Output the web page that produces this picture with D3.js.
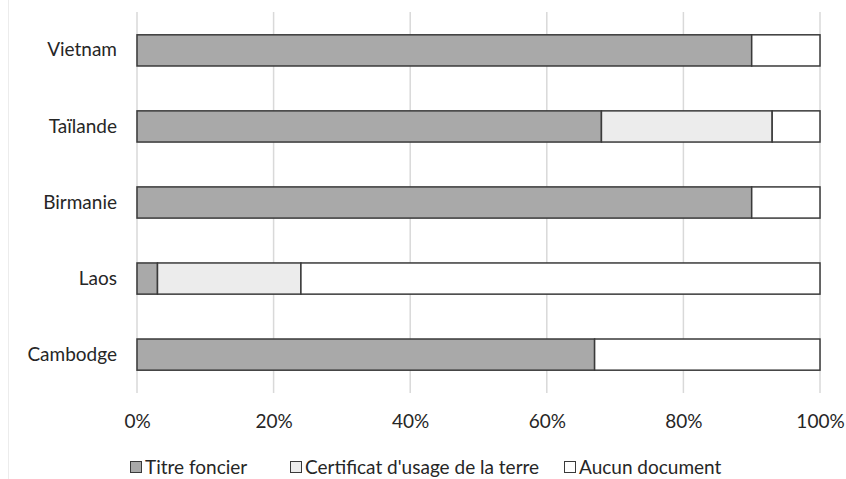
<!DOCTYPE html>
<html>
<head>
<meta charset="utf-8">
<script src="https://cdn.jsdelivr.net/npm/d3@7"></script>
<style>
  html, body { margin: 0; padding: 0; background: #fff; }
  svg { display: block; font-family: Lato, "Noto Sans", sans-serif; }
</style>
</head>
<body>
<svg id="chart" width="846" height="479"></svg>
<script>
// Categories, top to bottom
const countries = ["Vietnam", "Taïlande", "Birmanie", "Laos", "Cambodge"];
// Share of each document type (%)
const titreFoncier = [90, 68, 90, 3, 67];
const certificat = [0, 25, 0, 21, 0];
const aucun = [10, 7, 10, 76, 33];
const seriesNames = ["Titre foncier", "Certificat d'usage de la terre", "Aucun document"];
const seriesColors = ["#a9a9a9", "#ececec", "#ffffff"];
const tickValues = [0, 20, 40, 60, 80, 100];

const svg = d3.select("#chart");
const margin = { left: 137, right: 26, top: 12, bottom: 86 };
const W = 846, H = 479;
const textColor = "#262626";
const font = "Lato, 'Noto Sans', sans-serif";

const x = d3.scaleLinear().domain([0, 100]).range([margin.left, W - margin.right]);
const y = d3.scaleBand().domain(countries).range([margin.top, H - margin.bottom]).paddingInner(0.59).paddingOuter(0.3);

// Faint left edge of the chart area
svg.append("line").attr("x1", 8.5).attr("x2", 8.5).attr("y1", 0).attr("y2", H)
  .attr("stroke", "#ececec");

// Vertical gridlines
svg.append("g").selectAll("line").data(tickValues).join("line")
  .attr("x1", d => x(d)).attr("x2", d => x(d))
  .attr("y1", margin.top).attr("y2", H - margin.bottom)
  .attr("stroke", "#d9d9d9").attr("stroke-width", 1.5);

// Stacked bars
const rows = countries.map((c, i) => ({ c, vals: [titreFoncier[i], certificat[i], aucun[i]] }));
const stack = d3.stack().keys([0, 1, 2]).value((d, k) => d.vals[k]);
const layers = stack(rows);

layers.forEach((layer, k) => {
  svg.append("g").selectAll("rect").data(layer.filter(d => d[1] > d[0])).join("rect")
    .attr("x", d => x(d[0]))
    .attr("width", d => x(d[1]) - x(d[0]))
    .attr("y", d => y(d.data.c))
    .attr("height", y.bandwidth())
    .attr("fill", seriesColors[k])
    .attr("stroke", "#3a3a3a")
    .attr("stroke-width", 1.5);
});

// X axis tick labels
const xAxis = d3.axisBottom(x).tickValues(tickValues).tickFormat(d => d + "%").tickSize(0).tickPadding(0);
const gx = svg.append("g").attr("transform", `translate(0, 421)`).call(xAxis);
gx.select(".domain").remove();
gx.selectAll("text").attr("dy", "0.35em").attr("font-size", 19).attr("fill", textColor).attr("font-family", font);

// Y axis category labels
const yAxis = d3.axisLeft(y).tickSize(0).tickPadding(20);
const gy = svg.append("g").attr("transform", `translate(${margin.left}, 0)`).call(yAxis);
gy.select(".domain").remove();
gy.selectAll("text").attr("font-size", 19).attr("fill", textColor).attr("font-family", font);

// Legend
const legendX = [130, 290, 564];
const legend = svg.append("g").attr("transform", "translate(0, 467)");
seriesNames.forEach((name, k) => {
  const g = legend.append("g").attr("transform", `translate(${legendX[k]}, 0)`);
  g.append("rect").attr("x", 0.5).attr("y", -5.5).attr("width", 11).attr("height", 11)
    .attr("fill", seriesColors[k]).attr("stroke", "#3a3a3a").attr("stroke-width", 1);
  g.append("text").attr("x", 15).attr("y", 0).attr("dy", "0.35em")
    .attr("font-size", 19).attr("fill", textColor).text(name);
});
</script>
</body>
</html>
